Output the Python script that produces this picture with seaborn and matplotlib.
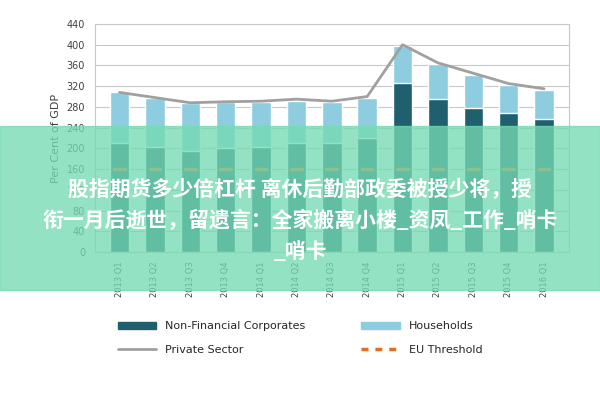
import matplotlib
matplotlib.use("Agg")
import matplotlib.pyplot as plt
from matplotlib.patches import Rectangle
from matplotlib.lines import Line2D
import seaborn as sns
import pandas as pd

quarters = ["2013 Q1", "2013 Q2", "2013 Q3", "2013 Q4", "2014 Q1", "2014 Q2", "2014 Q3",
            "2014 Q4", "2015 Q1", "2015 Q2", "2015 Q3", "2015 Q4", "2016 Q1"]
non_financial = [210, 202, 195, 200, 202, 210, 210, 220, 327, 295, 278, 268, 257]
households = [98, 95, 93, 90, 88, 82, 80, 78, 71, 67, 64, 55, 56]
private_sector = [308, 298, 288, 290, 291, 295, 291, 300, 400, 365, 345, 325, 315]
eu_threshold = [160] * len(quarters)

totals = [a + b for a, b in zip(non_financial, households)]
df = pd.DataFrame({"q": quarters, "nf": non_financial, "tot": totals})

sns.set_style("whitegrid")
fig = plt.figure(figsize=(6, 4), dpi=100)
ax = fig.add_axes([0.158, 0.37, 0.79, 0.57])

sns.barplot(data=df, x="q", y="tot", color="#8ecde0", width=0.55, ax=ax, saturation=1)
sns.barplot(data=df, x="q", y="nf", color="#1f5f6e", width=0.55, ax=ax, saturation=1)
ax.plot(range(len(quarters)), private_sector, color="#a0a0a0", lw=2)
for i, v in enumerate(eu_threshold):
    ax.plot([i - 0.15, i + 0.15], [v, v], color="#e07020", lw=2.5)

ax.set_ylim(0, 440)
ax.set_yticks(range(0, 441, 40))
ax.set_xlim(-0.7, len(quarters) - 0.3)
ax.tick_params(axis="y", labelsize=7, colors="#404040")
ax.tick_params(axis="x", labelsize=6, colors="#404040", rotation=90)
ax.set_xlabel("")
ax.set_ylabel("Per Cent of GDP", fontsize=8, color="#404040")
ax.grid(axis="x", visible=False)
ax.grid(axis="y", color="#c8c8c8")
for s in ax.spines.values():
    s.set_color("#c8c8c8")

handles = [
    Rectangle((0, 0), 1, 1, color="#1f5f6e"),
    Line2D([], [], color="#a0a0a0", lw=2),
    Rectangle((0, 0), 1, 1, color="#8ecde0"),
    Line2D([], [], color="#e07020", lw=2.5, ls=(0, (2, 2))),
]
labels = ["Non-Financial Corporates", "Private Sector", "Households", "EU Threshold"]
fig.legend(handles, labels, loc="center", bbox_to_anchor=(0.5, 0.155), ncol=2,
           frameon=False, fontsize=8, columnspacing=5, handlelength=3.5, labelspacing=1.2)

# semi-transparent green caption banner
fig.patches.append(Rectangle((0, 0.275), 1, 0.41, transform=fig.transFigure,
                             color="#74dab2", alpha=0.78, zorder=5))
fig.text(0.5, 0.45, "股指期货多少倍杠杆 离休后勤部政委被授少将，授\n衔一月后逝世，留遗言：全家搬离小楼_资凤_工作_哨卡\n_哨卡",
         ha="center", va="center", fontsize=15, fontweight="bold", color="white",
         family="Noto Sans CJK SC", linespacing=1.6, zorder=6)

fig.savefig("out.png", dpi=100)
